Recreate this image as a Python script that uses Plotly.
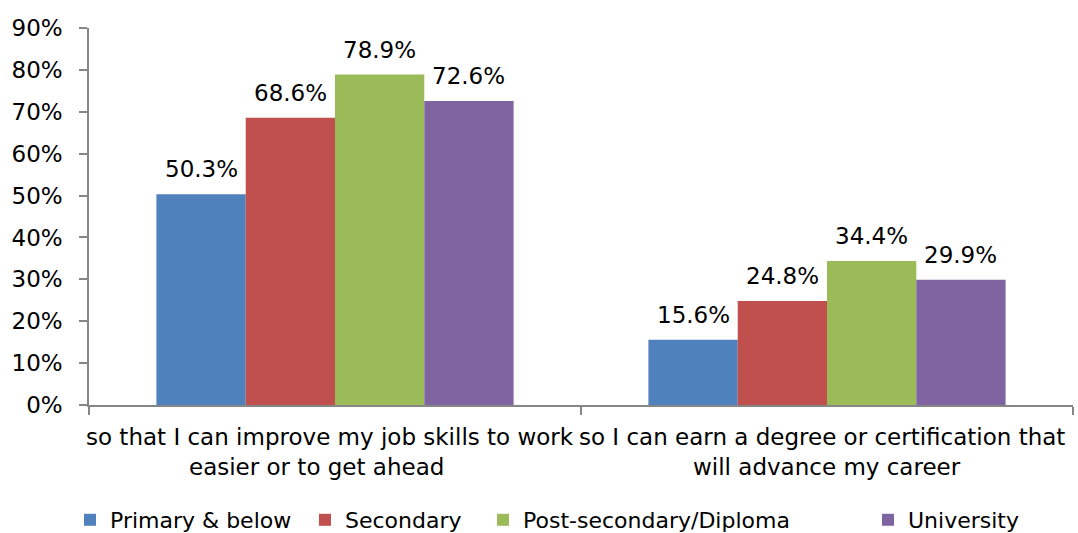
import plotly.graph_objects as go

# Survey data: share of respondents by education level
categories = [
    "so that I can improve my job skills to work easier or to get ahead",
    "so I can earn a degree or certification that will advance my career",
]
category_lines = [
    ["so that I can improve my job skills to work", "easier or to get ahead"],
    ["so I can earn a degree or certification that", "will advance my career"],
]
series_names = ["Primary & below", "Secondary", "Post-secondary/Diploma", "University"]
primary = [0.503, 0.156]
secondary = [0.686, 0.248]
post_secondary = [0.789, 0.344]
university = [0.726, 0.299]
y_ticks = [0, 0.1, 0.2, 0.3, 0.4, 0.5, 0.6, 0.7, 0.8, 0.9]

series_values = [primary, secondary, post_secondary, university]
colors = ["#4F81BD", "#C0504D", "#9BBB59", "#8064A2"]

FONT = "DejaVu Sans"
FS = 23
LEG_FS = 22
W, H = 1078, 533
ML, MR, MT, MB = 89, 5, 28, 128
BARGAP = 0.274

fig = go.Figure()
legend_ids = ["legend", "legend2", "legend3", "legend4"]
for name, vals, col, lg in zip(series_names, series_values, colors, legend_ids):
    fig.add_trace(go.Bar(
        x=categories, y=vals, name=name, marker=dict(color=col, line=dict(width=0)),
        legend=lg, hoverinfo="skip",
    ))

# value labels above each bar, placed at the bar's grouped offset
n = len(series_values)
bar_w = (1 - BARGAP) / n
annotations = []
for s, vals in enumerate(series_values):
    off = (s - (n - 1) / 2) * bar_w
    for i, v in enumerate(vals):
        annotations.append(dict(
            x=i + off, y=v, xref="x", yref="y", text=f"{v * 100:.1f}%",
            showarrow=False, yanchor="bottom", xanchor="center", yshift=10,
            font=dict(family=FONT, size=FS, color="#000000"),
        ))

# wrapped category labels beneath the axis
line_shift = [[-5, -19], [-5, 0]]
for i, lines in enumerate(category_lines):
    for j, txt in enumerate(lines):
        annotations.append(dict(
            x=i, y=0, xref="x", yref="paper", text=txt, showarrow=False,
            xanchor="center", yanchor="top", xshift=line_shift[i][j], yshift=-17 - 30 * j,
            font=dict(family=FONT, size=FS, color="#000000"),
        ))

legend_left_px = [70, 305, 483, 868]
legend_cy_px = 520
layout_legends = {}
for lg, px in zip(legend_ids, legend_left_px):
    layout_legends[lg] = dict(
        x=px / W, xanchor="left", xref="container",
        y=(H - legend_cy_px) / H, yanchor="middle", yref="container",
        orientation="h", bgcolor="rgba(0,0,0,0)", borderwidth=0,
        font=dict(family=FONT, size=LEG_FS, color="#000000"),
    )

fig.update_layout(
    width=W, height=H,
    margin=dict(l=ML, r=MR, t=MT, b=MB, pad=0, autoexpand=False),
    paper_bgcolor="white", plot_bgcolor="white",
    barmode="group", bargap=BARGAP, bargroupgap=0,
    font=dict(family=FONT, size=FS, color="#000000"),
    annotations=annotations,
    showlegend=True,
    **layout_legends,
)
fig.update_xaxes(
    type="category", range=[-0.5, len(categories) - 0.5],
    showticklabels=False, showgrid=False, zeroline=False,
    showline=True, linecolor="#868686", linewidth=1.5, automargin=False,
    ticks="outside", tickson="boundaries", ticklen=8, tickcolor="#868686", tickwidth=1.5,
)
fig.update_yaxes(
    range=[0, 0.9], tickvals=y_ticks, tickformat=".0%", showgrid=False, zeroline=False,
    showline=True, linecolor="#868686", linewidth=1.5, automargin=False,
    ticks="outside", ticklen=8, tickcolor="#868686", tickwidth=1.5,
    ticklabelstandoff=12, tickfont=dict(family=FONT, size=FS, color="#000000"),
)

fig.write_html("out.html")
